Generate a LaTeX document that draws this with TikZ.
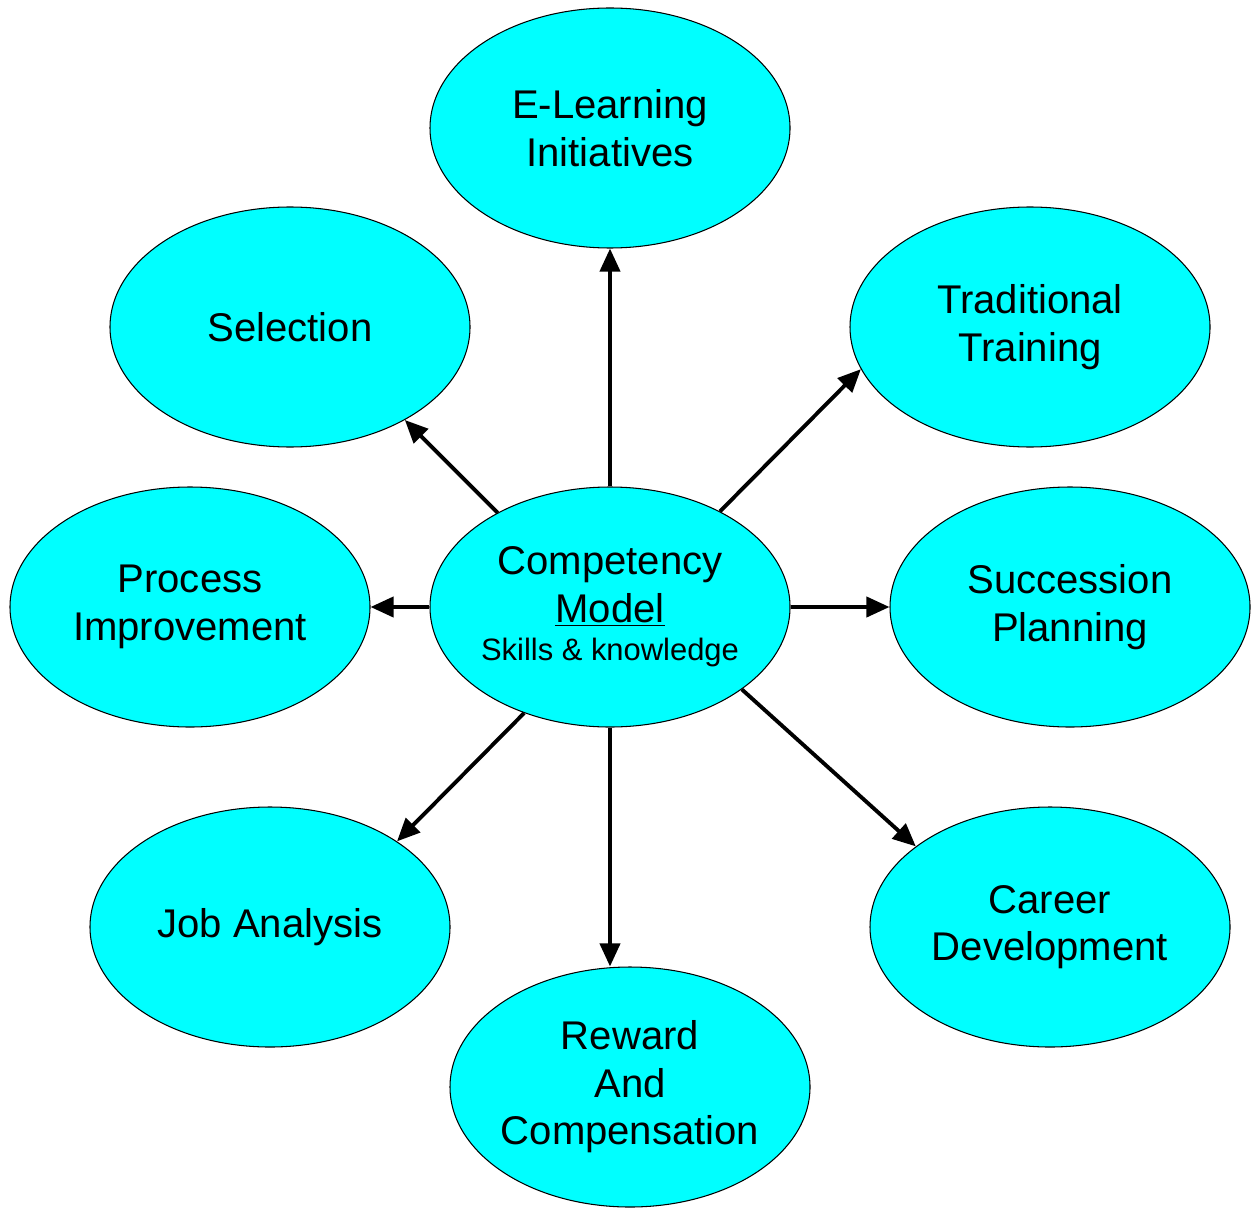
\documentclass[tikz,border=0pt]{standalone}
\usepackage{fontspec}
\setmainfont{Liberation Sans}
\usetikzlibrary{shapes.geometric,arrows.meta}
\definecolor{aqua}{RGB}{0,255,255}

\begin{document}
\begin{tikzpicture}[
    bubble/.style={ellipse, draw=black, line width=0.6pt, fill=aqua,
        minimum width=7.2cm, minimum height=4.8cm, inner sep=0pt, inner xsep=-0.4cm,
        align=center, font=\fontsize{22.8}{27}\selectfont},
    link/.style={line width=2.2pt, -{Triangle[length=0.46cm,width=0.4cm]}}
    ]
    \useasboundingbox (0,0) rectangle (25.04,-24.14);
    % outer ring
    \node[bubble] (elearn)    at (12.2, -2.56) {E-Learning\\Initiatives};
    \node[bubble] (selection) at ( 5.8, -6.54) {Selection};
    \node[bubble] (trad)      at (20.6, -6.54) {Traditional\\Training};
    \node[bubble] (process)   at ( 3.8,-12.14) {Process\\Improvement};
    \node[bubble] (succ)      at (21.4,-12.14) {Succession\\Planning};
    \node[bubble] (job)       at ( 5.4,-18.54) {Job Analysis};
    \node[bubble] (career)    at (21.0,-18.54) {Career\\Development};
    \node[bubble] (reward)    at (12.6,-21.74) {Reward\\And\\Compensation};
    % centre
    \node[bubble] (comp)      at (12.2,-12.14) {Competency\\\underline{Model}\\[-5pt]{\fontsize{17.6}{20}\selectfont Skills \& knowledge}};
    %\node[] at (12.2,-12.9) {Skills \& knowledge};
    \draw[link] (comp.north) -- (elearn.south);
    \draw[link] (comp.140.8) -- (selection.-39.5);
    \draw[link] (comp.41.3)  -- (trad.194.2);
    \draw[link] (comp.west)  -- (process.east);
    \draw[link] (comp.east)  -- (succ.west);
    \draw[link] (comp.231)   -- (job.34.2);
    \draw[link] (comp.south) -- (reward.north -| comp.south);
    \draw[link] (comp.-32.6) -- (career.149.3);
\end{tikzpicture}
\end{document}
